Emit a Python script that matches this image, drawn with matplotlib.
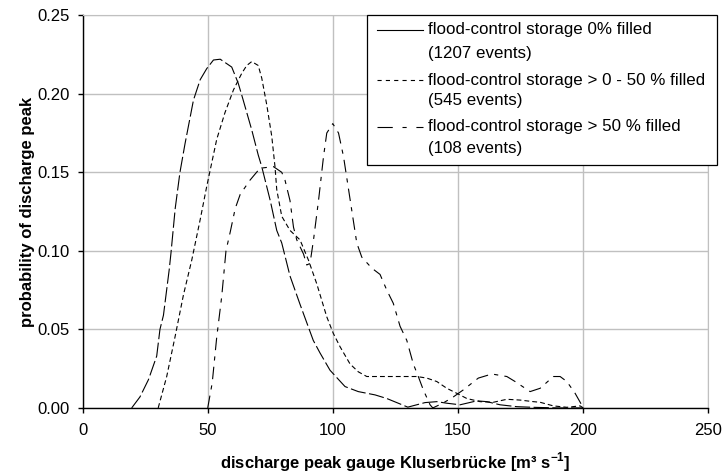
import matplotlib
matplotlib.use("Agg")
import matplotlib.pyplot as plt
from matplotlib.patches import Rectangle

plt.rcParams['font.family'] = ['Liberation Sans', 'DejaVu Sans']
plt.rcParams['lines.scale_dashes'] = False
plt.rcParams['mathtext.fontset'] = 'custom'
plt.rcParams['mathtext.rm'] = 'Liberation Sans'
plt.rcParams['mathtext.bf'] = 'Liberation Sans:bold'

# series: discharge peak (m3/s) vs probability
x_empty = [19.6, 22.9, 26.3, 29.6, 30.9, 32.3, 34.6, 35.3, 37, 38.9, 40.9, 44.3, 47, 49.6,
           52.3, 55, 59.6, 62.2, 64, 67.6, 70.2, 71.6, 75, 77.6, 79.6, 82.9, 86.9, 92.2,
           94.9, 98.9, 104.9, 110.2, 116.9, 121.6, 126.2, 130, 136.9, 141.6, 145.6,
           150.9, 157.6, 161.6, 166.9, 173.6, 180, 190, 200]
y_empty = [0, 0.007, 0.018, 0.033, 0.05, 0.059, 0.088, 0.0985, 0.127, 0.15, 0.168, 0.196,
           0.209, 0.216, 0.2215, 0.222, 0.217, 0.2067, 0.197, 0.177, 0.161, 0.1536, 0.132,
           0.113, 0.105, 0.084, 0.066, 0.043, 0.035, 0.024, 0.0136, 0.0104, 0.0083, 0.006,
           0.003, 0.0005, 0.0034, 0.004, 0.003, 0.002, 0.0045, 0.004, 0.002, 0.0008,
           0.0004, 0, 0]

x_half = [30.2, 33.6, 36.9, 40.3, 43.6, 47, 49.6, 53.6, 56.9, 60.3, 63.6, 65.6, 67.6,
          70.2, 71.6, 73.6, 75.6, 76.9, 77.6, 79.6, 82.9, 86.9, 90.3, 93.6, 97.6, 100.2,
          102.9, 106.9, 110.2, 113.6, 121.6, 133.6, 137.6, 141.6, 145.6, 149.6, 153.6,
          158.9, 164.2, 169.6, 174.9, 180.2, 182.9, 188.2, 193.6, 198.9, 200.2]
y_half = [0, 0.02, 0.045, 0.072, 0.094, 0.12, 0.141, 0.171, 0.188, 0.2025, 0.213, 0.218,
          0.2205, 0.218, 0.21, 0.193, 0.173, 0.1536, 0.139, 0.122, 0.113, 0.107, 0.094,
          0.079, 0.058, 0.0475, 0.039, 0.028, 0.023, 0.02, 0.02, 0.02, 0.019, 0.0168,
          0.0125, 0.0093, 0.006, 0.004, 0.0036, 0.0055, 0.005, 0.004, 0.0036, 0.0013,
          0.0004, 0.0013, 0]

x_full = [50, 51.8, 53.6, 55.6, 57.3, 59, 61, 63, 66.9, 70.9, 76.3, 79.6, 80.9, 82.9, 84.3,
          85.6, 88.3, 89.6, 90.9, 92.3, 94.3, 96.3, 97.6, 100, 102.3, 104.3, 106.9, 109.6,
          111.6, 115.6, 118.9, 121.6, 124.2, 126.9, 129.6, 132.2, 134.2, 136.2, 138.9,
          140, 144, 148.2, 152.2, 158.2, 163.6, 169.6, 172.9, 178.9, 182.9, 188.2, 190.9,
          193.6, 196.9, 200.2]
y_full = [0, 0.016, 0.045, 0.071, 0.1, 0.112, 0.127, 0.136, 0.145, 0.1526, 0.1536, 0.15,
          0.145, 0.132, 0.115, 0.107, 0.098, 0.091, 0.092, 0.107, 0.132, 0.16, 0.175,
          0.181, 0.175, 0.16, 0.133, 0.105, 0.096, 0.089, 0.085, 0.075, 0.0666, 0.052,
          0.043, 0.028, 0.02, 0.0115, 0.002, 0, 0.003, 0.007, 0.0115, 0.019, 0.0216,
          0.02, 0.0168, 0.0104, 0.0125, 0.02, 0.02, 0.0168, 0.0093, 0]

label_names = ["flood-control storage 0% filled",
               "flood-control storage > 0 - 50 % filled",
               "flood-control storage > 50 % filled"]
label_counts = ["(1207 events)", "(545 events)", "(108 events)"]

fig = plt.figure(figsize=(7.22, 4.76), dpi=100)
ax = fig.add_axes([0.1145, 0.143, 0.866, 0.825])

ax.plot(x_empty, y_empty, color='black', lw=0.8, dashes=(11, 2.5))
ax.plot(x_half, y_half, color='black', lw=0.8, dashes=(3.5, 2.2))
ax.plot(x_full, y_full, color='black', lw=0.8, dashes=(9, 4.5, 3, 4.5))

ax.set_xlim(0, 250)
ax.set_ylim(0, 0.25)
ax.set_xticks([0, 50, 100, 150, 200, 250])
ax.set_yticks([0, 0.05, 0.10, 0.15, 0.20, 0.25])
ax.set_yticklabels(["%.2f" % v for v in ax.get_yticks()])
ax.grid(True, color='#c0c0c0', lw=1)
ax.set_axisbelow(True)
for s in ['top', 'right']:
    ax.spines[s].set_color('#c0c0c0')
for s in ['left', 'bottom']:
    ax.spines[s].set_linewidth(1)
ax.tick_params(axis='both', labelsize=12, length=3.6, width=1, direction='out')
ax.tick_params(axis='y', pad=5.5)
ax.tick_params(axis='x', pad=7)

ax.set_xlabel(r"discharge peak gauge Kluserbrücke [m³ s$^{\mathbf{-1}}$]", fontsize=12,
              fontweight='bold', labelpad=9)
ax.set_ylabel("probability of discharge peak", fontsize=12, fontweight='bold',
              labelpad=2)

# legend box drawn by hand (handle sits on the first text line)
ax.add_patch(Rectangle((0.454, 0.619), 0.561, 0.381, transform=ax.transAxes,
                       facecolor='white', edgecolor='black', lw=0.9, zorder=5,
                       clip_on=False))
row_y = [(0.9626, 0.903), (0.835, 0.784), (0.716, 0.661)]
handle_dash = [None, (3, 3), (11, 7, 3, 7)]
for i in range(3):
    y1, y2 = row_y[i]
    if handle_dash[i] is None:
        ax.plot([0.470, 0.545], [y1, y1], transform=ax.transAxes, color='black',
                lw=0.8, zorder=6, clip_on=False)
    else:
        ax.plot([0.470, 0.545], [y1, y1], transform=ax.transAxes, color='black',
                lw=0.8, zorder=6, clip_on=False, dashes=handle_dash[i])
    ax.text(0.553, y1, label_names[i], transform=ax.transAxes, fontsize=12.2,
            va='center', ha='left', zorder=7)
    ax.text(0.553, y2, label_counts[i], transform=ax.transAxes, fontsize=12.2,
            va='center', ha='left', zorder=7)

fig.savefig("out.png", dpi=100)
